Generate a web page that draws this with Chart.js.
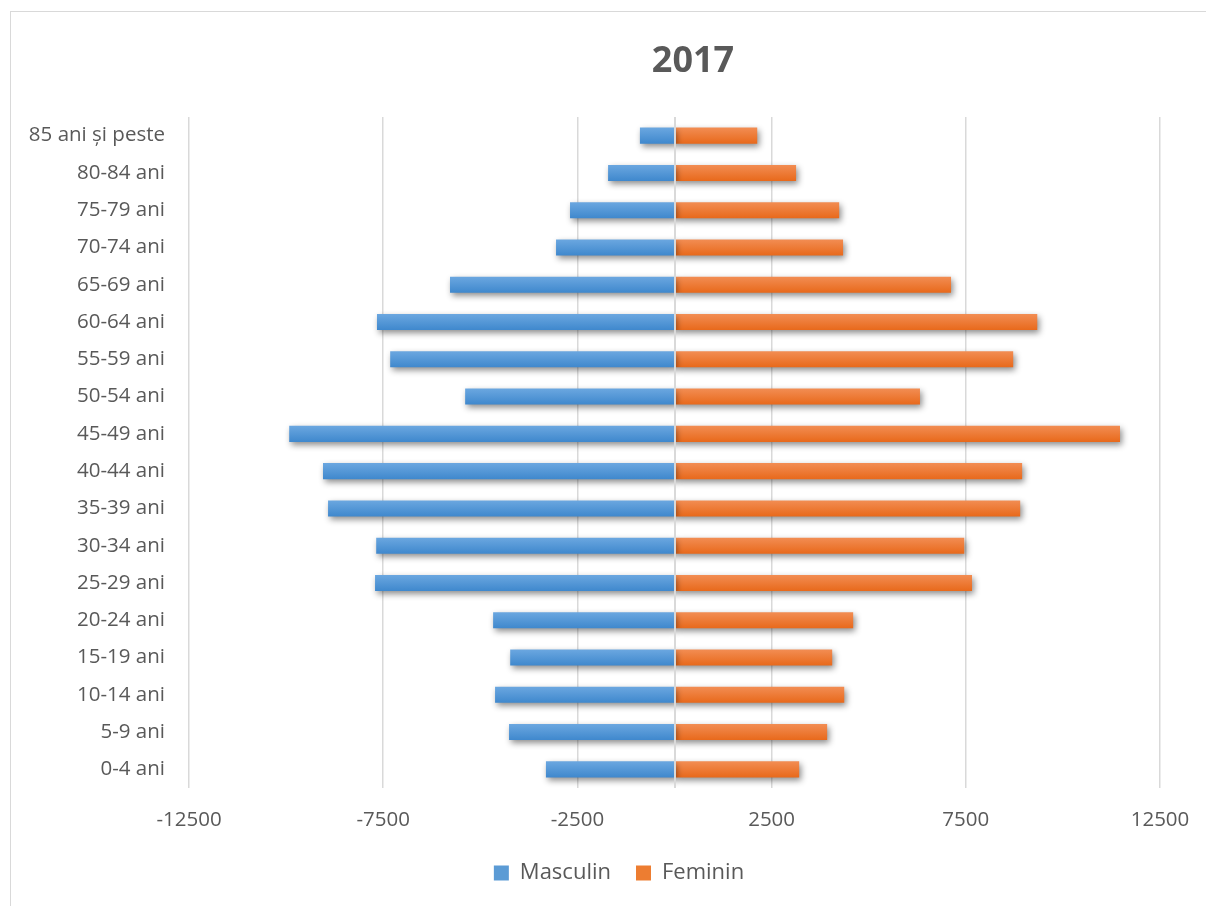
<!DOCTYPE html>
<html lang="ro">
<head>
<meta charset="utf-8">
<title>Populația pe grupe de vârstă, 2017</title>
<script src="https://cdn.jsdelivr.net/npm/chart.js@4.4.1/dist/chart.umd.min.js"></script>
<style>
    html, body { margin: 0; padding: 0; background: #fff; overflow: hidden; }
    #frame {
        position: absolute; left: 10px; top: 11px;
        width: 1210px; height: 910px;
        border: 1px solid #d9d9d9; box-sizing: border-box;
    }
    #pyramid { position: absolute; left: 0; top: 0; }
</style>
</head>
<body>
<div id="frame"></div>
<canvas id="pyramid" width="1206" height="906"></canvas>
<script>
// ── Data ─────────────────────────────────────────────────────
const ageGroups = [
    '85 ani și peste', '80-84 ani', '75-79 ani', '70-74 ani', '65-69 ani',
    '60-64 ani', '55-59 ani', '50-54 ani', '45-49 ani', '40-44 ani',
    '35-39 ani', '30-34 ani', '25-29 ani', '20-24 ani', '15-19 ani',
    '10-14 ani', '5-9 ani', '0-4 ani'
];
const maleCounts = [
    890, 1710, 2690, 3050, 5780,
    7660, 7320, 5390, 9920, 9050,
    8920, 7680, 7710, 4670, 4230,
    4620, 4260, 3310
];
const femaleCounts = [
    2130, 3130, 4240, 4340, 7120,
    9340, 8720, 6320, 11470, 8950,
    8900, 7460, 7660, 4600, 4060,
    4370, 3930, 3210
];
const xTickValues = [-12500, -7500, -2500, 2500, 7500, 12500];
const seriesNames = ['Masculin', 'Feminin'];
const chartTitle = '2017';

// ── Styling ──────────────────────────────────────────────────
const TEXT = '#595959';
const GRID = '#d9d9d9';
const FONT = '"Open Sans", "DejaVu Sans", sans-serif';
const BAR_PCT = 0.43;

// vertical gradient per bar, light on top, darker underneath
function barGradient(top, bottom) {
    return (ctx) => {
        const chart = ctx.chart;
        const area = chart.chartArea;
        if (!area || ctx.dataIndex === undefined) return bottom;
        const yScale = chart.scales.y;
        const row = (area.bottom - area.top) / ageGroups.length;
        const mid = yScale.getPixelForValue(ctx.dataIndex);
        const half = row * BAR_PCT / 2;
        const g = chart.ctx.createLinearGradient(0, mid - half, 0, mid + half);
        g.addColorStop(0, top);
        g.addColorStop(1, bottom);
        return g;
    };
}

// soft drop shadow under the bars + the axis line at zero on top
const barShadow = {
    id: 'barShadow',
    beforeDatasetsDraw(chart) {
        const c = chart.ctx;
        c.save();
        c.shadowColor = 'rgba(0, 0, 0, 0.45)';
        c.shadowBlur = 6;
        c.shadowOffsetX = 2;
        c.shadowOffsetY = 3;
    },
    afterDatasetsDraw(chart) {
        const c = chart.ctx;
        c.restore();
        const { top, bottom } = chart.chartArea;
        const x0 = Math.round(chart.scales.x.getPixelForValue(0));
        c.save();
        c.strokeStyle = GRID;
        c.lineWidth = 2;
        c.beginPath();
        c.moveTo(x0, top);
        c.lineTo(x0, bottom);
        c.stroke();
        c.restore();
    }
};

// legend sits a bit right of the canvas centre
const legendShift = {
    id: 'legendShift',
    afterLayout(chart, args, opts) {
        if (!chart.legend) return;
        chart.legend.left += opts.dx;
        chart.legend.right += opts.dx;
    }
};

const yearTitle = {
    id: 'yearTitle',
    afterDraw(chart, args, opts) {
        const c = chart.ctx;
        c.save();
        c.font = 'bold 36px ' + FONT;
        c.fillStyle = TEXT;
        c.textAlign = 'center';
        c.textBaseline = 'middle';
        c.fillText(opts.text, opts.x, opts.y);
        c.restore();
    }
};

// ── Chart ────────────────────────────────────────────────────
function buildChart() {
    new Chart(document.getElementById('pyramid'), {
        type: 'bar',
        data: {
            labels: ageGroups,
            datasets: [
                {
                    label: seriesNames[0],
                    data: maleCounts.map(v => -v),
                    backgroundColor: barGradient('#6ba7e0', '#3f88cd'),
                },
                {
                    label: seriesNames[1],
                    data: femaleCounts,
                    backgroundColor: barGradient('#f28d53', '#e8691b'),
                },
            ],
        },
        plugins: [barShadow, legendShift, yearTitle],
        options: {
            indexAxis: 'y',
            responsive: false,
            animation: false,
            datasets: {
                bar: { categoryPercentage: 1, barPercentage: BAR_PCT, borderWidth: 0 }
            },
            layout: { padding: { top: 117, left: 0, right: 46, bottom: 12 } },
            scales: {
                x: {
                    stacked: true,
                    min: -12500,
                    max: 12500,
                    afterBuildTicks: s => { s.ticks = xTickValues.map(v => ({ value: v })); },
                    afterFit: s => {
                        s.height = 49;
                        s.paddingLeft = 0;
                        s.paddingRight = 0;
                    },
                    border: { display: false },
                    grid: { color: GRID, lineWidth: 1.5, drawTicks: false },
                    ticks: {
                        autoSkip: false,
                        maxRotation: 0,
                        padding: 20,
                        color: TEXT,
                        font: { family: FONT, size: 20.5 },
                        callback: v => String(v),
                    },
                },
                y: {
                    stacked: true,
                    afterFit: s => { s.width = 189; },
                    border: { display: false },
                    grid: { display: false, drawTicks: false },
                    ticks: {
                        padding: 24,
                        color: TEXT,
                        font: { family: FONT, size: 20.5 },
                    },
                },
            },
            plugins: {
                yearTitle: { text: chartTitle, x: 693, y: 62 },
                legendShift: { dx: 39 },
                title: { display: false },
                tooltip: { enabled: false },
                legend: {
                    position: 'bottom',
                    labels: {
                        boxWidth: 15,
                        boxHeight: 15,
                        padding: 25,
                        color: TEXT,
                        font: { family: FONT, size: 22 },
                        generateLabels: chart => chart.data.datasets.map((ds, i) => ({
                            text: ds.label,
                            fillStyle: i === 0 ? '#5b9bd5' : '#ed7d31',
                            strokeStyle: 'transparent',
                            lineWidth: 0,
                            fontColor: TEXT,
                            datasetIndex: i,
                            hidden: false,
                        })),
                    },
                },
            },
        },
    });
}

if (document.fonts && document.fonts.load) {
    Promise.all([
        document.fonts.load('20px "Open Sans"'),
        document.fonts.load('bold 36px "Open Sans"'),
    ]).then(buildChart, buildChart);
} else {
    buildChart();
}
</script>
</body>
</html>
